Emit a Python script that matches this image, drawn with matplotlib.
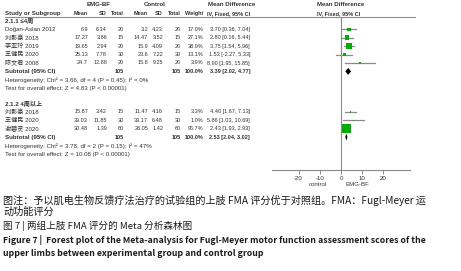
import matplotlib.pyplot as plt
import numpy as np

# ---- data ----
g1_title = "2.1.1 ≤4周"
g1_names = ["Doğan-Aslan 2012", "刘影豪 2018", "李亚玲 2019", "王健民 2020", "陈文君 2008"]
g1_emg_mean = ["6.9", "17.27", "19.65", "25.13", "24.7"]
g1_emg_sd = ["6.34", "3.86", "2.94", "7.78", "12.88"]
g1_emg_n = [20, 15, 20, 30, 20]
g1_ctl_mean = ["3.2", "14.47", "15.9", "23.6", "15.8"]
g1_ctl_sd = ["4.23", "3.52", "4.09", "7.22", "9.25"]
g1_ctl_n = [20, 15, 20, 30, 20]
g1_weight = [17.0, 27.1, 38.9, 13.1, 3.9]
g1_md = [3.70, 2.80, 3.75, 1.53, 8.90]
g1_lo = [0.36, 0.16, 1.54, -2.27, 1.95]
g1_hi = [7.04, 5.44, 5.96, 5.33, 15.85]
g1_sub = (3.39, 2.02, 4.77)
g1_het = "Heterogeneity: Chi² = 3.66, df = 4 (P = 0.45); I² = 0%"
g1_test = "Test for overall effect: Z = 4.83 (P < 0.00001)"

g2_title = "2.1.2 4周以上"
g2_names = ["刘影豪 2018", "王健民 2020", "谢碧灵 2020"]
g2_emg_mean = ["15.87", "39.03", "30.48"]
g2_emg_sd = ["3.42", "11.85", "1.39"]
g2_emg_n = [15, 30, 60]
g2_ctl_mean = ["11.47", "33.17", "28.05"]
g2_ctl_sd = ["4.16", "6.48", "1.42"]
g2_ctl_n = [15, 30, 60]
g2_weight = [3.3, 1.0, 95.7]
g2_md = [4.40, 5.86, 2.43]
g2_lo = [1.67, 1.03, 1.93]
g2_hi = [7.13, 10.69, 2.93]
g2_sub = (2.53, 2.04, 3.02)
g2_het = "Heterogeneity: Chi² = 3.78, df = 2 (P = 0.15); I² = 47%"
g2_test = "Test for overall effect: Z = 10.08 (P < 0.00001)"

ticks = [-20, -10, 0, 10, 20]

caption = [
    "图注：予以肌电生物反馈疗法治疗的试验组的上肢 FMA 评分优于对照组。FMA：Fugl-Meyer 运",
    "动功能评分",
    "图 7 | 两组上肢 FMA 评分的 Meta 分析森林图",
    "Figure 7 |  Forest plot of the Meta-analysis for Fugl-Meyer motor function assessment scores of the",
    "upper limbs between experimental group and control group",
]

# ---- layout ----
W, H = 461, 271
FAM = ["Liberation Sans", "Noto Sans CJK SC"]
CJK = ["Noto Sans CJK SC", "DejaVu Sans"]
TC = "#333333"
GREEN = "#00b000"
GREY = "#8a8a8a"
FS = 4.4
NFS = 4.0

fig = plt.figure(figsize=(W / 100, H / 100), dpi=100)
tx = fig.add_axes([0, 0, 1, 1])
tx.set_xlim(0, W)
tx.set_ylim(H, 0)
tx.axis("off")

fa = fig.add_axes([272 / W, 1 - 170 / H, 138 / W, (170 - 16.5) / H])
fa.set_xlim(-32.5, 32.5)
fa.set_ylim(170, 16.5)
fa.patch.set_visible(False)
for s in ["top", "left", "right"]:
    fa.spines[s].set_visible(False)
fa.spines["bottom"].set_color(GREY)
fa.spines["bottom"].set_linewidth(0.8)
fa.set_yticks([])
fa.set_xticks(ticks)
fa.set_xticklabels([str(t) for t in ticks], fontsize=FS, color=TC, family=FAM)
fa.tick_params(axis="x", length=3, width=0.7, color=GREY, pad=1)
fa.axvline(0, color=GREY, lw=0.8)


def t(x, y, s, ha="left", bold=False, fs=FS, fam=FAM, color=TC):
    tx.text(x, y, s, ha=ha, va="center", fontsize=fs, family=fam,
            fontweight="bold" if bold else "normal", color=color)


cols_r = [88, 107, 124, 148, 163, 181, 203, 250]

# headers
t(99, 5, "EMG-BF", ha="center", bold=True)
t(155, 5, "Control", ha="center", bold=True)
t(232, 5, "Mean Difference", ha="center", bold=True)
t(341, 5, "Mean Difference", ha="center", bold=True)
t(5, 13.5, "Study or Subgroup", bold=True)
for x, s in zip(cols_r, ["Mean", "SD", "Total", "Mean", "SD", "Total", "Weight", "IV, Fixed, 95% CI"]):
    t(x, 13.5, s, ha="right", bold=True, fs=NFS)
t(339, 13.5, "IV, Fixed, 95% CI", ha="center", bold=True, fs=NFS)
tx.plot([5, 415], [16.5, 16.5], color=GREY, lw=0.8)


def group(y0, title, names, em, esd, en, cm, csd, cn, wt, md, lo, hi, sub, het, test):
    t(5, y0, title, bold=True)
    ys = y0 + 8.4 * (np.arange(len(names)) + 1)
    for i, y in enumerate(ys):
        t(5, y, names[i])
        vals = [em[i], esd[i], str(en[i]), cm[i], csd[i], str(cn[i]),
                "%.1f%%" % wt[i], "%.2f [%.2f, %.2f]" % (md[i], lo[i], hi[i])]
        for x, s in zip(cols_r, vals):
            t(x, y, s, ha="right", fs=NFS)
        fa.plot([lo[i], hi[i]], [y, y], color=GREY, lw=0.9)
    side = 9 * np.sqrt(np.array(wt) / 95.7)
    fa.scatter(md, ys, s=(side * 0.72) ** 2, marker="s", color=GREEN, lw=0, zorder=3)
    ys_sub = ys[-1] + 8.4
    t(5, ys_sub, "Subtotal (95% CI)", bold=True)
    t(cols_r[2], ys_sub, str(sum(en)), ha="right", bold=True, fs=NFS)
    t(cols_r[5], ys_sub, str(sum(cn)), ha="right", bold=True, fs=NFS)
    t(cols_r[6], ys_sub, "100.0%", ha="right", bold=True, fs=NFS)
    t(cols_r[7], ys_sub, "%.2f [%.2f, %.2f]" % sub, ha="right", bold=True, fs=NFS)
    m, l, h = sub
    fa.fill([l, m, h, m], [ys_sub, ys_sub - 3.5, ys_sub, ys_sub + 3.5], color="black", lw=0)
    t(5, ys_sub + 8.6, het)
    t(5, ys_sub + 17.2, test)


group(21, g1_title, g1_names, g1_emg_mean, g1_emg_sd, g1_emg_n, g1_ctl_mean, g1_ctl_sd,
      g1_ctl_n, g1_weight, g1_md, g1_lo, g1_hi, g1_sub, g1_het, g1_test)
group(103.5, g2_title, g2_names, g2_emg_mean, g2_emg_sd, g2_emg_n, g2_ctl_mean, g2_ctl_sd,
      g2_ctl_n, g2_weight, g2_md, g2_lo, g2_hi, g2_sub, g2_het, g2_test)

t(318, 184, "control", ha="center")
t(357, 184, "EMG-BF", ha="center")

# caption
cap_y = [200, 212, 226, 240, 253]
cap_fs = [7.3, 7.3, 6.9, 6.3, 6.3]
for i, (y, s) in enumerate(zip(cap_y, caption)):
    t(3, y, s, fs=cap_fs[i], fam=CJK, bold=i >= 3, color="#1a1a1a")

fig.savefig("out.png", dpi=100)
